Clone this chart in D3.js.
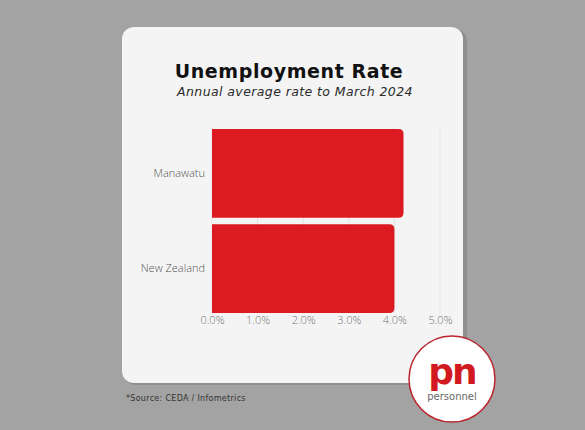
<!DOCTYPE html>
<html><head><meta charset="utf-8">
<script src="https://cdn.jsdelivr.net/npm/d3@7"></script>
<style>html,body{margin:0;padding:0;background:#a3a3a3;}svg{display:block;}</style>
</head><body>
<script>
const categories = ["Manawatu", "New Zealand"];
const values = [4.2, 4.0];
const tickValues = [0, 1, 2, 3, 4, 5];
const title = "Unemployment Rate";
const subtitle = "Annual average rate to March 2024";
const source = "*Source: CEDA / Infometrics";

const W = 585, H = 430;
const svg = d3.select("body").append("svg").attr("width", W).attr("height", H);
svg.append("rect").attr("width", W).attr("height", H).attr("fill", "#a3a3a3");
// card shadow + card
svg.append("rect").attr("x", 124).attr("y", 29).attr("width", 343).attr("height", 356).attr("rx", 12).attr("fill", "#8e8e8e");
svg.append("rect").attr("x", 122).attr("y", 27).attr("width", 341).attr("height", 356).attr("rx", 12).attr("fill", "#f4f4f4");

svg.append("text").attr("x", 289).attr("y", 78).attr("text-anchor", "middle")
  .attr("font-family", "DejaVu Sans").attr("font-weight", "bold").attr("font-size", 19)
  .attr("letter-spacing", 0.6).attr("fill", "#111").text(title);
svg.append("text").attr("x", 295).attr("y", 96).attr("text-anchor", "middle")
  .attr("font-family", "DejaVu Sans").attr("font-style", "italic").attr("font-size", 12.5)
  .attr("letter-spacing", 0.4).attr("fill", "#2a2a2a").text(subtitle);

const x = d3.scaleLinear().domain([0, 5]).range([212, 440]);
const y = d3.scaleBand().domain(categories).range([128, 314]).paddingInner(0.07).paddingOuter(0.01);

const g = svg.append("g");
g.selectAll("line.grid").data(tickValues).join("line")
  .attr("x1", d => x(d)).attr("x2", d => x(d)).attr("y1", 128).attr("y2", 313)
  .attr("stroke", "#e4e4e4").attr("stroke-width", 1);

const r = 5;
g.selectAll("path.bar").data(categories).join("path")
  .attr("fill", "#dc1a21")
  .attr("d", (c, i) => {
    const x0 = x(0), x1 = x(values[i]), y0 = y(c), h = y.bandwidth();
    return `M${x0},${y0}H${x1 - r}Q${x1},${y0} ${x1},${y0 + r}V${y0 + h - r}Q${x1},${y0 + h} ${x1 - r},${y0 + h}H${x0}Z`;
  });

const xAxis = d3.axisBottom(x).tickValues(tickValues).tickFormat(d => d.toFixed(1) + "%").tickSize(0).tickPadding(0);
const xa = svg.append("g").attr("transform", "translate(0,316)").call(xAxis);
xa.select(".domain").remove();
xa.selectAll("text").attr("font-family", "Open Sans").attr("font-weight", 300).attr("font-size", 11).attr("fill", "#777").attr("dy", "0.71em");

const yAxis = d3.axisLeft(y).tickSize(0).tickPadding(7);
const ya = svg.append("g").attr("transform", "translate(212,0)").call(yAxis);
ya.select(".domain").remove();
ya.selectAll("text").attr("font-family", "Open Sans").attr("font-weight", 300).attr("font-size", 11).attr("fill", "#555");

svg.append("text").attr("x", 126).attr("y", 401).attr("font-family", "DejaVu Sans").attr("font-size", 8)
  .attr("letter-spacing", 0.3).attr("fill", "#333").text(source);

// logo
const lg = svg.append("g").attr("transform", "translate(452,379)");
lg.append("circle").attr("r", 43).attr("fill", "#fff").attr("stroke", "#b8262c").attr("stroke-width", 1.5);
lg.append("text").attr("y", 5).attr("text-anchor", "middle").attr("font-family", "DejaVu Sans")
  .attr("font-weight", "bold").attr("font-size", 36).attr("letter-spacing", -2).attr("fill", "#d21920").text("pn");
lg.append("text").attr("y", 21).attr("text-anchor", "middle").attr("font-family", "DejaVu Sans")
  .attr("font-size", 10).attr("fill", "#666").text("personnel");
</script>
</body></html>
